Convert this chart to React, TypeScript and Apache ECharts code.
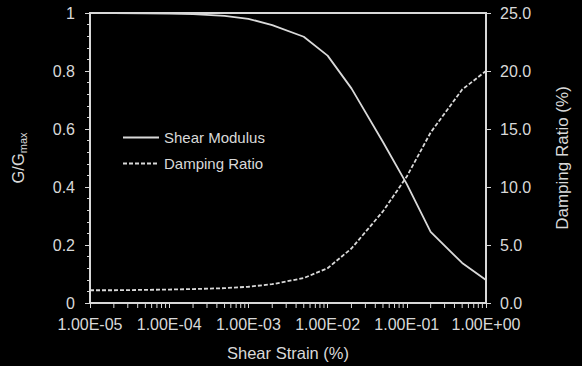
import React, { useEffect, useRef } from "react";
import * as echarts from "echarts";

const strain = [1e-5, 2e-5, 5e-5, 1e-4, 2e-4, 5e-4, 1e-3, 2e-3, 5e-3, 1e-2, 2e-2, 5e-2, 1e-1, 2e-1, 5e-1, 1];
const shearModulus = [1.0, 1.0, 0.999, 0.998, 0.996, 0.99, 0.98, 0.958, 0.918, 0.853, 0.74, 0.555, 0.41, 0.245, 0.138, 0.079];
const dampingRatio = [1.1, 1.1, 1.13, 1.16, 1.2, 1.28, 1.4, 1.62, 2.15, 3.0, 4.7, 7.9, 10.9, 14.7, 18.4, 20.0];
const minorTickMultipliers = [2, 3, 4, 5, 6, 7, 8, 9];
const decades = [1e-5, 1e-4, 1e-3, 1e-2, 1e-1];

const FG = "#d9d9d9";
const FONT = 'Arial, "Liberation Sans", sans-serif';

function fmtExp(v: number): string {
  const e = Math.round(Math.log10(v));
  const sign = e < 0 ? "-" : "+";
  const a = Math.abs(e);
  return "1.00E" + sign + (a < 10 ? "0" + a : String(a));
}

export default function App() {
  const ref = useRef<HTMLDivElement>(null);
  useEffect(() => {
    document.body.style.margin = "0";
    document.body.style.background = "#000";
    const chart = echarts.init(ref.current!, undefined, { renderer: "svg" });
    const minorTicks: number[][] = [];
    decades.forEach((d) => minorTickMultipliers.forEach((m) => minorTicks.push([d * m, 0])));
    chart.setOption({
      animation: false,
      backgroundColor: "#000",
      textStyle: { fontFamily: FONT },
      grid: {
        left: 73,
        right: 96,
        top: 13,
        bottom: 63,
        show: true,
        borderColor: FG,
        borderWidth: 2,
        backgroundColor: "transparent",
      },
      legend: {
        orient: "vertical",
        left: 122,
        top: 130,
        padding: 0,
        itemWidth: 36,
        itemHeight: 14,
        itemGap: 11,
        itemStyle: { opacity: 0 },
        textStyle: { color: FG, fontSize: 15, fontFamily: FONT },
        data: [
          { name: "Shear Modulus" },
          { name: "Damping Ratio" },
        ],
      },
      xAxis: {
        type: "log",
        logBase: 10,
        min: 1e-5,
        max: 1,
        name: "Shear Strain (%)",
        nameLocation: "middle",
        nameGap: 41,
        nameTextStyle: { color: FG, fontSize: 16.5, fontFamily: FONT },
        axisLine: { show: true, lineStyle: { color: FG, width: 2 } },
        axisTick: { show: true, inside: false, length: 5, lineStyle: { color: FG, width: 1 } },
        axisLabel: { color: FG, fontSize: 16, margin: 13, formatter: fmtExp, fontFamily: FONT },
        splitLine: { show: false },
        minorTick: { show: false },
      },
      yAxis: [
        {
          type: "value",
          min: 0,
          max: 1,
          interval: 0.2,
          position: "left",
          name: "{g|G/G}{s|max}",
          nameLocation: "middle",
          nameGap: 62,
          nameTextStyle: {
            color: FG,
            fontFamily: FONT,
            rich: {
              g: { fontSize: 16.5, color: FG, fontFamily: FONT, lineHeight: 20 },
              s: { fontSize: 11, color: FG, fontFamily: FONT, lineHeight: 20, padding: [9, 0, 0, 0] },
            },
          },
          axisLine: { show: true, lineStyle: { color: FG, width: 2 } },
          axisTick: { show: true, inside: false, length: 5, lineStyle: { color: FG, width: 1 } },
          minorTick: { show: true, splitNumber: 5, length: 3, lineStyle: { color: FG, width: 1 } },
          axisLabel: { color: FG, fontSize: 16, margin: 15, fontFamily: FONT },
          splitLine: { show: false },
        },
        {
          type: "value",
          min: 0,
          max: 25,
          interval: 5,
          position: "right",
          name: "Damping Ratio (%)",
          nameLocation: "middle",
          nameGap: 68,
          nameTextStyle: { color: FG, fontSize: 17, fontFamily: FONT },
          axisLine: { show: true, lineStyle: { color: FG, width: 2 } },
          axisTick: { show: true, inside: false, length: 5, lineStyle: { color: FG, width: 1 } },
          axisLabel: { color: FG, fontSize: 16, margin: 14, fontFamily: FONT, formatter: (v: number) => v.toFixed(1) },
          splitLine: { show: false },
        },
      ],
      series: [
        {
          name: "Shear Modulus",
          type: "line",
          yAxisIndex: 0,
          data: strain.map((s, i) => [s, shearModulus[i]]),
          showSymbol: false,
          symbol: "none",
          lineStyle: { color: FG, width: 1.8, type: "solid" },
          itemStyle: { color: FG },
        },
        {
          name: "Damping Ratio",
          type: "line",
          yAxisIndex: 1,
          data: strain.map((s, i) => [s, dampingRatio[i]]),
          showSymbol: false,
          symbol: "none",
          lineStyle: { color: FG, width: 1.8, type: [4, 2] },
          itemStyle: { color: FG },
        },
        {
          name: "minorTicks",
          type: "custom",
          yAxisIndex: 0,
          silent: true,
          clip: false,
          data: minorTicks,
          renderItem: (params: any, api: any) => {
            const p = api.coord([api.value(0), api.value(1)]);
            return {
              type: "line",
              shape: { x1: p[0], y1: p[1] + 1, x2: p[0], y2: p[1] + 5 },
              style: { stroke: FG, lineWidth: 1 },
            };
          },
        },
      ],
    });
    return () => chart.dispose();
  }, []);
  return <div ref={ref} style={{ width: 582, height: 366 }} />;
}
